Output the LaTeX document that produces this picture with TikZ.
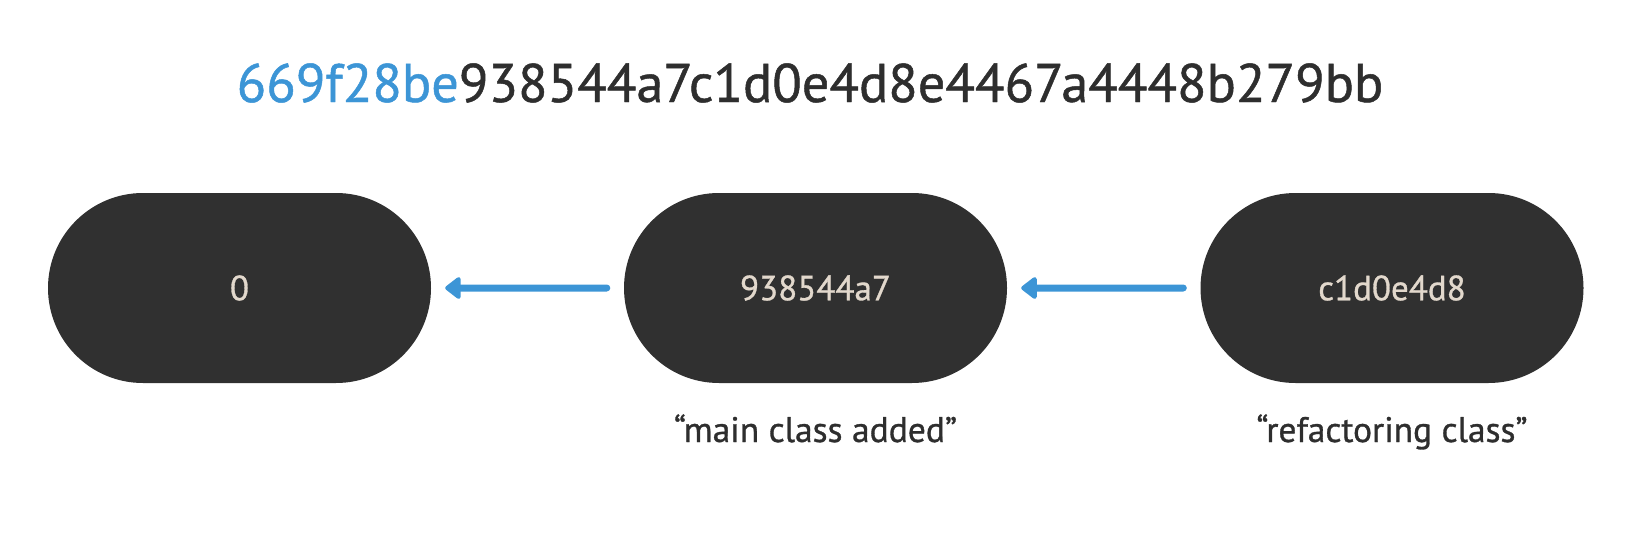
\documentclass[tikz,border=0pt]{standalone}
\usepackage{fontspec}
\setmainfont{PT Sans}[FakeBold=0.9]
\usetikzlibrary{arrows.meta, positioning, shapes.misc}
\definecolor{gblue}{HTML}{3C95D6}
\definecolor{gdark}{HTML}{303030}
\definecolor{gtext}{HTML}{2E2E2E}
\definecolor{gbeige}{HTML}{E2D8CC}
\tikzset{
  commit/.style={
    rounded rectangle, fill=gdark, draw=none, text=gbeige,
    minimum width=383pt, minimum height=190pt, inner sep=0pt,
    font=\fontsize{35}{40}\selectfont
  },
  parent/.style={
    draw=gblue, line width=7pt, line cap=round,
    -{Triangle[length=17pt, width=25pt, round]},
    shorten >=14pt, shorten <=17pt
  },
  msg/.style={anchor=base, text=gtext, font=\fontsize{35.5}{40}\selectfont}
}

\begin{document}
\begin{tikzpicture}[x=1pt,y=-1pt]
  \useasboundingbox (0,0) rectangle (1632,554);
  % full hash, short prefix in blue
  \node[anchor=base, text=gtext, font=\fontsize{54.3}{60}\selectfont] (hash) at (810,102)
    {{\color{gblue}669f28be}938544a7c1d0e4d8e4467a4448b279bb};
  % commits
  \node[commit] (root) at (239.5,288) {0};
  \node[commit] (first) at (815.5,288) {938544a7};
  \node[commit] (second) at (1392,288) {c1d0e4d8};
  \draw[parent] (first) -- (root);
  \draw[parent] (second) -- (first);
  % commit messages
  \node[msg] (firstmsg) at (815.5,442) {“main class added”};
  \node[msg] (secondmsg) at (1392,442) {“refactoring class”};
\end{tikzpicture}
\end{document}
